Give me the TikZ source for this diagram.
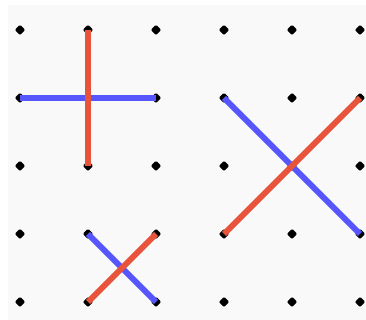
\documentclass[tikz,border=0pt]{standalone}
\usepackage{tikz}
\usetikzlibrary{positioning, calc, shapes.geometric}

\definecolor{bgray}{HTML}{F9F9F9}
\definecolor{sred}{HTML}{E8533B}
\definecolor{sblue}{HTML}{5656FC}

\begin{document}
\begin{tikzpicture}[y=-1cm,
  redseg/.style={line width=2.5pt,sred},
  blueseg/.style={line width=2.5pt,sblue},
  griddot/.style={diamond,fill=black,inner sep=0pt,minimum size=1.6mm,rounded corners=0.5pt}]
  % Frame and background
  \useasboundingbox (0,0) rectangle (366/68,320/68);
  \fill[bgray] (8/68,5/68) rectangle (366/68,320/68);

  % Grid points
  \foreach \i in {0,...,5}
    \foreach \j in {0,...,4}
      \node[griddot] (p\i\j) at ({(20+68*\i)/68},{(30+68*\j)/68}) {};

  % Plus sign
  \draw[blueseg] (p01.center) -- (p21.center);
  \draw[redseg] (p10.center) -- (p12.center);

  % Large cross
  \draw[blueseg] (p31.center) -- (p53.center);
  \draw[redseg] (p33.center) -- (p51.center);

  % Small cross
  \draw[blueseg] (p13.center) -- (p24.center);
  \draw[redseg] (p14.center) -- (p23.center);
\end{tikzpicture}
\end{document}
